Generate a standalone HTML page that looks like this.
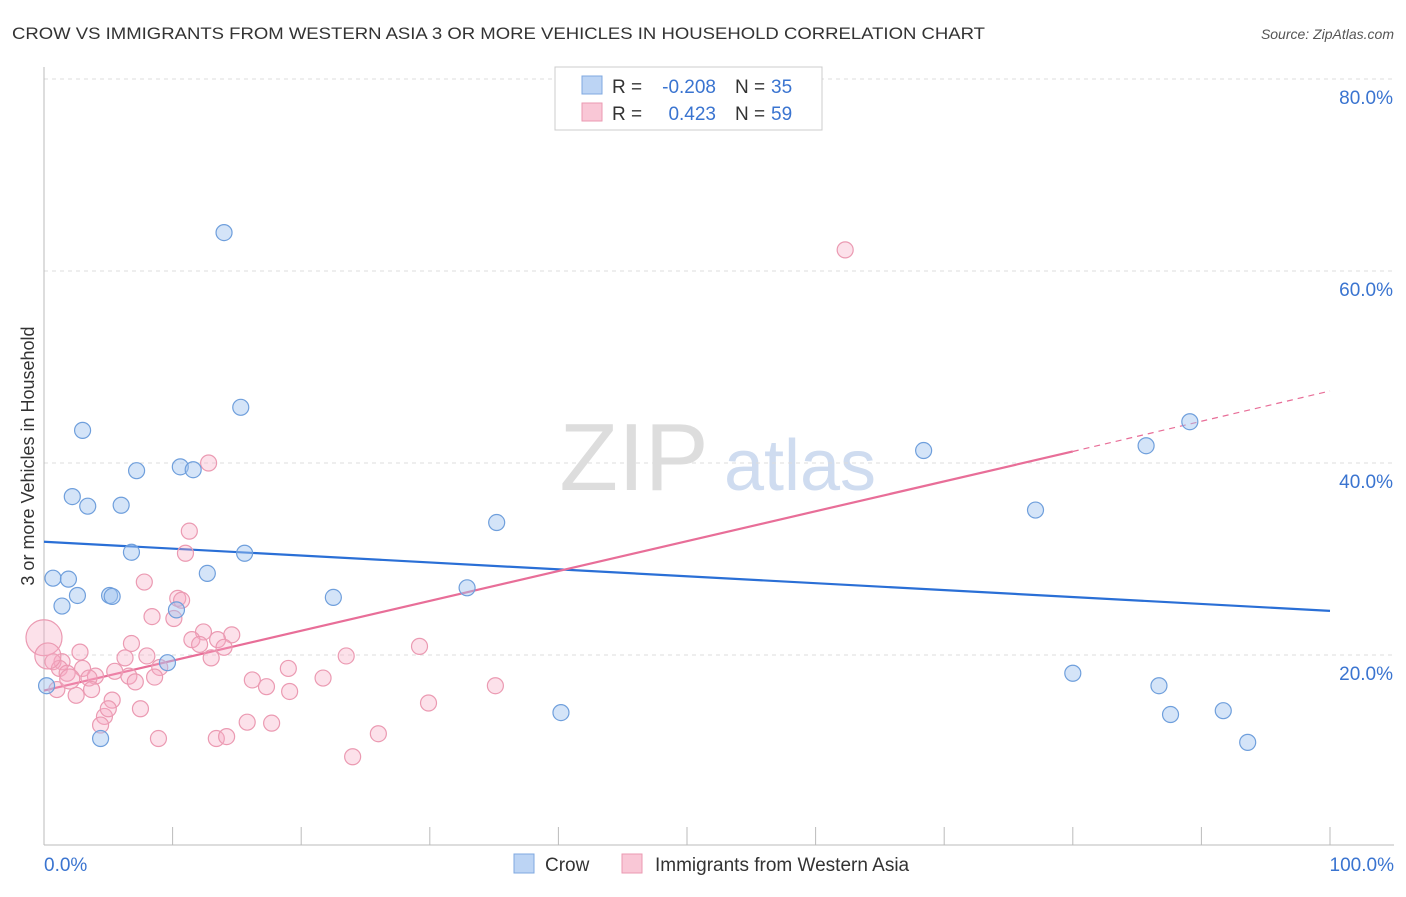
<!DOCTYPE html>
<html><head><meta charset="utf-8"><style>
body{margin:0;background:#fff;font-family:"Liberation Sans",sans-serif;}
svg text{font-family:"Liberation Sans",sans-serif;}
</style></head><body>
<svg id="chart" width="1406" height="892" xmlns="http://www.w3.org/2000/svg">
<text x="12" y="39" font-size="17" fill="#333" textLength="973" lengthAdjust="spacingAndGlyphs">CROW VS IMMIGRANTS FROM WESTERN ASIA 3 OR MORE VEHICLES IN HOUSEHOLD CORRELATION CHART</text>
<text x="1394" y="39" font-size="14" fill="#555" font-style="italic" text-anchor="end">Source: ZipAtlas.com</text>
<g><text x="634" y="490" font-size="96" fill="#ddd" font-family="Liberation Serif,serif" text-anchor="middle">ZIP</text><text x="800" y="490" font-size="72" fill="#cfdcf0" text-anchor="middle">atlas</text></g>
<g id="grid"></g>
<g id="axes"></g>
<g id="lines"></g>
<g id="points"></g>
<text transform="translate(34,456) rotate(-90)" font-size="18" fill="#333" text-anchor="middle">3 or more Vehicles in Household</text>
<g>
<rect x="555" y="67" width="267" height="63" fill="#fff" stroke="#ccc"/>
<rect x="582" y="76" width="20" height="18" fill="#bcd4f4" stroke="#7fa8e0"/>
<rect x="582" y="103" width="20" height="18" fill="#f9c7d6" stroke="#eb9ab2"/>
<text x="612" y="93" font-size="19" fill="#333">R =</text>
<text x="716" y="93" font-size="19" fill="#3a74d0" text-anchor="end">-0.208</text>
<text x="735" y="93" font-size="19" fill="#333">N =</text>
<text x="771" y="93" font-size="19" fill="#3a74d0">35</text>
<text x="612" y="120" font-size="19" fill="#333">R =</text>
<text x="716" y="120" font-size="19" fill="#3a74d0" text-anchor="end">0.423</text>
<text x="735" y="120" font-size="19" fill="#333">N =</text>
<text x="771" y="120" font-size="19" fill="#3a74d0">59</text>
</g>
<g>
<rect x="514" y="854" width="20" height="19" fill="#bcd4f4" stroke="#7fa8e0"/>
<text x="545" y="871" font-size="19" fill="#333">Crow</text>
<rect x="622" y="854" width="20" height="19" fill="#f9c7d6" stroke="#eb9ab2"/>
<text x="655" y="871" font-size="19" fill="#333">Immigrants from Western Asia</text>
</g>
</svg>
<script>
const crowX=[14,15.3,3,7.2,10.6,11.6,2.2,3.4,6,6.8,15.6,0.7,1.9,1.4,2.6,5.1,5.3,12.7,10.3,9.6,22.5,35.2,32.9,40.2,4.4,68.4,77.1,85.7,89.1,80,86.7,87.6,91.7,93.6,0.2];
const crowY=[64,45.8,43.4,39.2,39.6,39.3,36.5,35.5,35.6,30.7,30.6,28,27.9,25.1,26.2,26.2,26.1,28.5,24.7,19.2,26,33.8,27,14,11.3,41.3,35.1,41.8,44.3,18.1,16.8,13.8,14.2,10.9,16.8];
const immX=[62.3,12.8,11.3,11,7.8,10.4,10.7,10.1,8.4,12.4,14.6,13.5,11.5,14,12.1,6.8,8,6.3,13,2.8,1.4,0.7,1.2,1.8,3,4,3.5,5.5,6.6,9,7.1,8.6,3.7,2.5,1,5.3,4.7,5,4.4,7.5,16.2,17.3,19,19.1,21.7,23.5,29.2,29.9,35.1,15.8,17.7,8.9,13.4,14.2,26,24,0,0.3,2];
const immY=[62.2,40,32.9,30.6,27.6,25.9,25.7,23.8,24,22.4,22.1,21.6,21.6,20.8,21.1,21.2,19.9,19.7,19.7,20.3,19.3,19.3,18.6,18.1,18.6,17.8,17.6,18.3,17.8,18.7,17.2,17.7,16.4,15.8,16.4,15.3,13.6,14.4,12.7,14.4,17.4,16.7,18.6,16.2,17.6,19.9,20.9,15,16.8,13,12.9,11.3,11.3,11.5,11.8,9.4,21.8,19.9,17.5];
const immR=[8,8,8,8,8,8,8,8,8,8,8,8,8,8,8,8,8,8,8,8,8,8,8,8,8,8,8,8,8,8,8,8,8,8,8,8,8,8,8,8,8,8,8,8,8,8,8,8,8,8,8,8,8,8,8,8,18,13,10];
const yTicks=[20,40,60,80];
const xTickLabels=["0.0%","100.0%"];
const X0=44,X1=1330,Y0=847,PPY=9.6;
const xs=v=>X0+(X1-X0)*v/100, ys=v=>Y0-v*PPY;
const NS="http://www.w3.org/2000/svg";
function mk(p,t,a){const e=document.createElementNS(NS,t);for(const k in a)e.setAttribute(k,a[k]);document.getElementById(p).appendChild(e);return e;}
yTicks.forEach(t=>{
 const g=mk("grid","line",{x1:X0,x2:1394,y1:ys(t),y2:ys(t),stroke:"#ddd","stroke-dasharray":"4,4"});
 
 
 const l=mk("grid","text",{x:1393,y:ys(t)+25,"font-size":19,fill:"#3a74d0","text-anchor":"end"});l.textContent=t.toFixed(1)+"%";
 
 
});
const ax=mk("axes","line",{x1:X0,x2:X0,y1:67,y2:845,stroke:"#bbb"});


const bx=mk("axes","line",{x1:X0,x2:1394,y1:845,y2:845,stroke:"#bbb"});


for(let i=0;i<=10;i++){const t=mk("axes","line",{x1:xs(i*10),x2:xs(i*10),y1:827,y2:845,stroke:"#bbb"});
 
 }
[[0,"start",44],[100,"end",1394]].forEach((d,i)=>{const t=mk("axes","text",{x:d[2],y:871,"font-size":19,fill:"#3a74d0","text-anchor":d[1]});t.textContent=xTickLabels[i];
 
 });
immX.forEach((x,i)=>{const c=mk("points","circle",{cx:xs(x),cy:ys(immY[i]),r:immR[i],fill:"rgba(246,170,195,0.35)",stroke:"#eb9ab2","stroke-width":1.2});
 
 });
crowX.forEach((x,i)=>{const c=mk("points","circle",{cx:xs(x),cy:ys(crowY[i]),r:8,fill:"rgba(160,195,240,0.45)",stroke:"#6f9fdc","stroke-width":1.2});
 
 });
const blueLine=[31.8,24.6], pinkLine=[16.3,41.2,47.5];
const bl=mk("lines","line",{x1:xs(0),y1:ys(blueLine[0]),x2:xs(100),y2:ys(blueLine[1]),stroke:"#2a6fd6","stroke-width":2.2});


const pl=mk("lines","line",{x1:xs(0),y1:ys(pinkLine[0]),x2:xs(80),y2:ys(pinkLine[1]),stroke:"#e86e98","stroke-width":2.2});


const pd=mk("lines","line",{x1:xs(80),y1:ys(pinkLine[1]),x2:xs(100),y2:ys(pinkLine[2]),stroke:"#e86e98","stroke-width":1.2,"stroke-dasharray":"6,5"});


</script>
</body></html>
